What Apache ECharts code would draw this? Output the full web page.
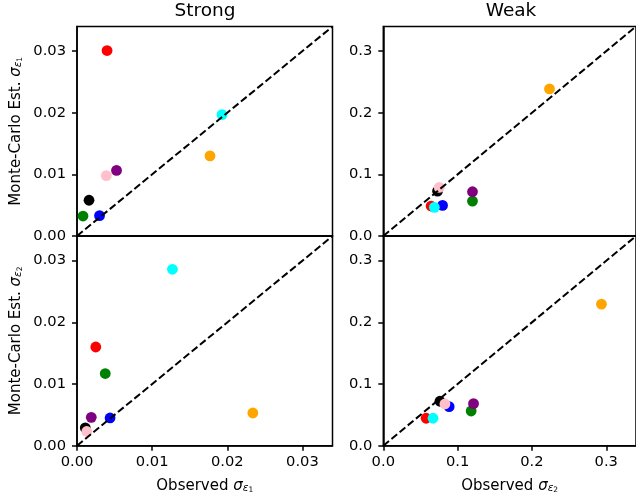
<!DOCTYPE html>
<html><head><meta charset="utf-8">
<script src="https://cdn.jsdelivr.net/npm/echarts@6/dist/echarts.min.js"></script>
<style>html,body{margin:0;padding:0;background:#fff}#c{width:636px;height:501px}</style>
</head><body><div id="c"></div>
<script>
// draw order: green, purple, orange, red, blue, cyan, black, pink
const pointColors = ['#008000','#800080','#ffa500','#ff0000','#0000ff','#00ffff','#000000','#ffc0cb'];

const strongE1Obs = [0.0008, 0.00526, 0.0177, 0.0040, 0.0030, 0.0193, 0.0016, 0.0039];
const strongE1MC  = [0.00324, 0.01065, 0.0130, 0.0301, 0.0033, 0.0197, 0.0058, 0.0098];

const weakE1Obs = [0.120, 0.120, 0.2236, 0.0643, 0.0797, 0.0687, 0.0730, 0.0753];
const weakE1MC  = [0.0567, 0.0718, 0.2387, 0.0486, 0.0497, 0.0465, 0.0729, 0.0789];

const strongE2Obs = [0.00376, 0.0019, 0.0234, 0.0025, 0.0044, 0.0127, 0.0011, 0.0013];
const strongE2MC  = [0.0117, 0.0046, 0.0053, 0.0160, 0.0045, 0.0286, 0.0029, 0.0023];

const weakE2Obs = [0.1182, 0.1214, 0.2935, 0.0576, 0.0886, 0.0669, 0.0762, 0.0829];
const weakE2MC  = [0.0563, 0.0682, 0.2295, 0.0445, 0.0633, 0.0445, 0.0721, 0.0677];

const strongTicks = [0, 0.01, 0.02, 0.03];
const weakTicks = [0, 0.1, 0.2, 0.3];
const strongLim = 0.034;
const weakLim = 0.34;

const F = 'DejaVu Sans';
const LW = 1.5;

function richName(main, sub) {
  return '{t|' + main + '}{s|σ}{e|ε}{n|' + sub + '}';
}
const richStyles = {
  t: {fontSize: 15, fontFamily: F, color: '#000', verticalAlign: 'bottom', lineHeight: 18},
  s: {fontSize: 15, fontFamily: F, fontStyle: 'italic', color: '#000', verticalAlign: 'bottom', lineHeight: 18},
  e: {fontSize: 10.5, fontFamily: F, fontStyle: 'italic', color: '#000', verticalAlign: 'bottom', lineHeight: 6},
  n: {fontSize: 7.5, fontFamily: F, color: '#000', verticalAlign: 'bottom', lineHeight: 2}
};

const grids = [
  {left: 77, top: 26.5, width: 255.5, height: 209.5},
  {left: 383.3, top: 26.5, width: 256, height: 209.5},
  {left: 77, top: 236, width: 255.5, height: 209.7},
  {left: 383.3, top: 236, width: 256, height: 209.7}
].map(g => Object.assign(g, {show: true, borderColor: '#000', borderWidth: LW, backgroundColor: 'transparent', containLabel: false}));

function axis(gi, lim, ticks, dec, showLabels, name, isY) {
  const a = {
    type: 'value', gridIndex: gi, min: 0, max: lim,
    splitLine: {show: false},
    axisLine: {show: true, onZero: false, lineStyle: {color: '#000', width: LW}},
    axisTick: {show: showLabels, length: 5, inside: false, customValues: ticks, lineStyle: {color: '#000', width: LW}},
    axisLabel: {show: showLabels, customValues: ticks, margin: isY ? 11 : 9,
      fontFamily: F, fontSize: 14.7, color: '#000',
      formatter: v => v.toFixed(dec)}
  };
  if (name) {
    a.name = name;
    a.nameLocation = 'middle';
    a.nameGap = isY ? 53 : 30;
    if (isY) a.nameRotate = 90;
    a.nameTextStyle = {fontFamily: F, fontSize: 15, color: '#000', rich: richStyles};
  }
  return a;
}

const xAxes = [
  axis(0, strongLim, strongTicks, 2, false, null, false),
  axis(1, weakLim, weakTicks, 1, false, null, false),
  axis(2, strongLim, strongTicks, 2, true, richName('Observed ', '1'), false),
  axis(3, weakLim, weakTicks, 1, true, richName('Observed ', '2'), false)
];
const yAxes = [
  axis(0, strongLim, strongTicks, 2, true, richName('Monte-Carlo Est. ', '1'), true),
  axis(1, weakLim, weakTicks, 1, true, null, true),
  axis(2, strongLim, strongTicks, 2, true, richName('Monte-Carlo Est. ', '2'), true),
  axis(3, weakLim, weakTicks, 1, true, null, true)
];

const panels = [
  [strongE1Obs, strongE1MC, strongLim],
  [weakE1Obs, weakE1MC, weakLim],
  [strongE2Obs, strongE2MC, strongLim],
  [weakE2Obs, weakE2MC, weakLim]
];

const series = [];
panels.forEach((p, i) => {
  series.push({
    type: 'scatter', xAxisIndex: i, yAxisIndex: i, symbolSize: 10.8, z: 2,
    data: p[0].map((x, k) => ({value: [x, p[1][k]], itemStyle: {color: pointColors[k], opacity: 1}})),
    emphasis: {disabled: true}
  });
  series.push({
    type: 'line', xAxisIndex: i, yAxisIndex: i, z: 3, showSymbol: false, clip: true,
    data: [[0, 0], [p[2], p[2]]],
    lineStyle: {color: '#000', width: 2, type: [7.4, 3.2]},
    emphasis: {disabled: true}
  });
});

const chart = echarts.init(document.getElementById('c'), null, {renderer: 'canvas'});
chart.setOption({
  animation: false,
  backgroundColor: '#fff',
  grid: grids,
  xAxis: xAxes,
  yAxis: yAxes,
  series: series,
  graphic: [
    {type: 'text', x: 205, y: 2, style: {text: 'Strong', align: 'center', verticalAlign: 'top', fontFamily: F, fontSize: 18.5, fill: '#000'}},
    {type: 'text', x: 511, y: 2, style: {text: 'Weak', align: 'center', verticalAlign: 'top', fontFamily: F, fontSize: 18.5, fill: '#000'}}
  ]
});
</script>
</body></html>
